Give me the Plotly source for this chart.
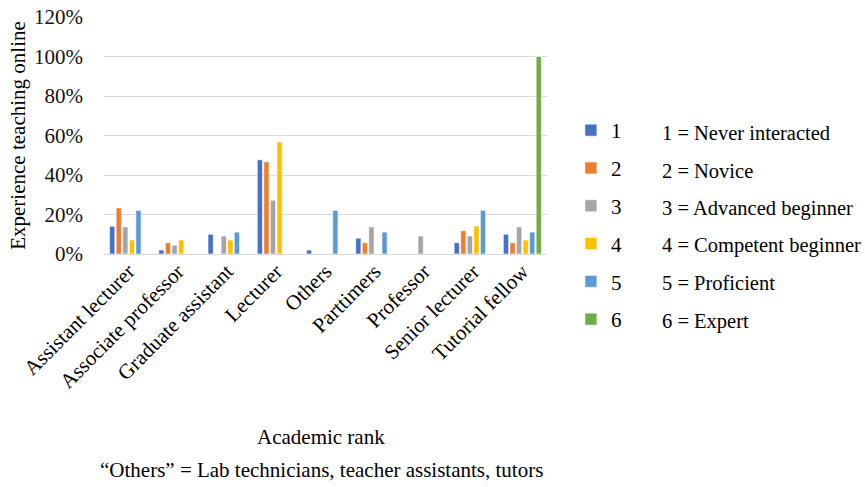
import plotly.graph_objects as go

# Academic ranks along the x axis
ranks = ["Assistant lecturer", "Associate professor", "Graduate assistant",
         "Lecturer", "Others", "Parttimers", "Professor",
         "Senior lecturer", "Tutorial fellow"]

# Share of respondents at each experience level (fractions), None = no bar
level_1 = [0.14, 0.02, 0.10, 0.477, 0.02, 0.08, None, 0.057, 0.10]
level_2 = [0.233, 0.057, None, 0.467, None, 0.057, None, 0.118, 0.057]
level_3 = [0.137, 0.044, 0.091, 0.272, None, 0.137, 0.091, 0.091, 0.137]
level_4 = [0.071, 0.071, 0.071, 0.567, None, None, None, 0.142, 0.071]
level_5 = [0.221, None, 0.111, None, 0.221, 0.111, None, 0.221, 0.111]
level_6 = [None, None, None, None, None, None, None, None, 1.0]

level_names = ["1", "2", "3", "4", "5", "6"]
level_colors = ["#4472C4", "#ED7D31", "#A5A5A5", "#FFC000", "#5B9BD5", "#70AD47"]
level_keys = ["1 = Never interacted", "2 = Novice", "3 = Advanced beginner",
              "4 = Competent beginner", "5 = Proficient", "6 = Expert"]

y_ticks = [0, 0.2, 0.4, 0.6, 0.8, 1.0, 1.2]

FONT = "Liberation Serif"

# Page geometry: plot area spans y = 17..254 px of a 487 px tall page
M_T, M_B, H = 17, 30, 487
PAPER_H = H - M_T - M_B


def py(px):
    """Convert a page y pixel to paper coordinates."""
    return (H - M_B - px) / PAPER_H


fig = go.Figure()
for name, vals, color in zip(level_names,
                             [level_1, level_2, level_3, level_4, level_5, level_6],
                             level_colors):
    fig.add_trace(go.Bar(x=ranks, y=vals, name=name, legendgroup=name,
                         marker=dict(color=color, line=dict(width=0.6, color="#FFFFFF"))))

# Key describing each level, to the right of the legend
for i, txt in enumerate(level_keys):
    fig.add_annotation(text=txt, xref="paper", yref="paper",
                       x=1.255, y=py(133 + i * 37.6), xanchor="left", yanchor="middle",
                       showarrow=False, font=dict(family=FONT, size=20.5, color="#000000"))

# x axis title and footnote
fig.add_annotation(text="Academic rank", xref="paper", yref="paper",
                   x=0.49, y=py(437), xanchor="center", yanchor="middle",
                   showarrow=False, font=dict(family=FONT, size=21, color="#000000"))
fig.add_annotation(text="\u201cOthers\u201d = Lab technicians, teacher assistants, tutors",
                   xref="paper", yref="paper", x=0.49, y=py(470),
                   xanchor="center", yanchor="middle", showarrow=False,
                   font=dict(family=FONT, size=21, color="#000000"))

fig.update_layout(
    width=865, height=H,
    margin=dict(l=104, r=318, t=M_T, b=M_B, autoexpand=False),
    paper_bgcolor="white", plot_bgcolor="white",
    font=dict(family=FONT, size=20, color="#000000"),
    barmode="group", bargap=0.2, bargroupgap=0.2,
    legend=dict(x=1.054, y=py(110), xanchor="left", yanchor="top",
                tracegroupgap=7.5, itemwidth=30,
                font=dict(family=FONT, size=21, color="#000000")),
    xaxis=dict(tickangle=-45, showgrid=False, showline=False, automargin=False,
               tickfont=dict(family=FONT, size=21, color="#000000")),
    yaxis=dict(range=[0, 1.2], tickvals=y_ticks, tickformat=".0%",
               domain=[py(254), 1], automargin=False,
               gridcolor="#D9D9D9", gridwidth=1, zeroline=True,
               zerolinecolor="#D9D9D9", zerolinewidth=1,
               ticklabelstandoff=20,
               tickfont=dict(family=FONT, size=21, color="#111111"),
               title=dict(text="Experience teaching online", standoff=2,
                          font=dict(family=FONT, size=21, color="#000000"))),
)

fig.write_html("out.html")
